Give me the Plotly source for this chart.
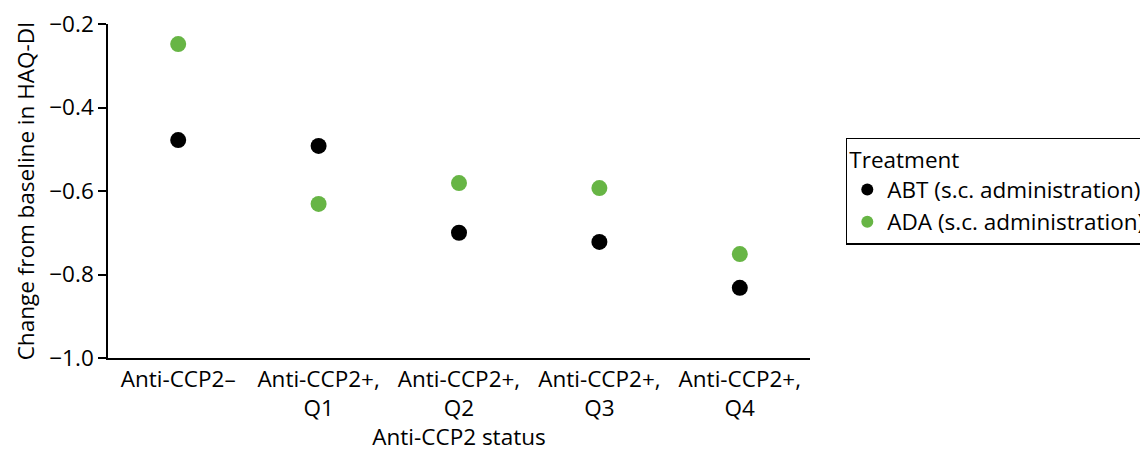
import plotly.graph_objects as go

categories = ["Anti-CCP2–", "Anti-CCP2+,<br>Q1", "Anti-CCP2+,<br>Q2", "Anti-CCP2+,<br>Q3", "Anti-CCP2+,<br>Q4"]
abt_values = [-0.478, -0.492, -0.700, -0.722, -0.832]
ada_values = [-0.248, -0.631, -0.581, -0.593, -0.751]
y_ticks = [-1.0, -0.8, -0.6, -0.4, -0.2]
y_ticklabels = ["−1.0", "−0.8", "−0.6", "−0.4", "−0.2"]

xpos = list(range(len(categories)))
font = "Open Sans"
fs = 22.5

fig = go.Figure()
fig.add_trace(go.Scatter(x=xpos, y=abt_values, mode="markers", name="ABT (s.c. administration)",
                         marker=dict(color="#000000", size=16)))
fig.add_trace(go.Scatter(x=xpos, y=ada_values, mode="markers", name="ADA (s.c. administration)",
                         marker=dict(color="#67b545", size=16)))

fig.update_layout(
    width=1140, height=444,
    margin=dict(l=100, r=338, t=16, b=94, autoexpand=False),
    paper_bgcolor="white", plot_bgcolor="white",
    font=dict(family=font, size=fs, color="#000000"),
    legend=dict(title=dict(text="Treatment", font=dict(family=font, size=fs)),
                x=1.051, y=0.66, xanchor="left", yanchor="top",
                bordercolor="#000000", borderwidth=1.5, bgcolor="white",
                font=dict(family=font, size=fs), itemsizing="constant", tracegroupgap=0),
    showlegend=True,
)
fig.update_xaxes(range=[-0.5, 4.5], tickvals=xpos, ticktext=categories,
                 tickfont=dict(family=font, size=fs), ticklabeloverflow="allow",
                 showline=True, linecolor="#000000", linewidth=1.5,
                 ticks="", showgrid=False, zeroline=False, automargin=True,
                 title=dict(text="Anti-CCP2 status", standoff=12, font=dict(family=font, size=fs)))
fig.update_yaxes(range=[-1.0, -0.2], tickvals=y_ticks, ticktext=y_ticklabels,
                 tickfont=dict(family=font, size=fs), ticklabeloverflow="allow",
                 showline=True, linecolor="#000000", linewidth=1.5,
                 ticks="outside", ticklen=8, tickwidth=1.5, tickcolor="#000000",
                 showgrid=False, zeroline=False, automargin=True,
                 title=dict(text="Change from baseline in HAQ-DI", standoff=8, font=dict(family=font, size=fs)))

fig.write_html("out.html")
